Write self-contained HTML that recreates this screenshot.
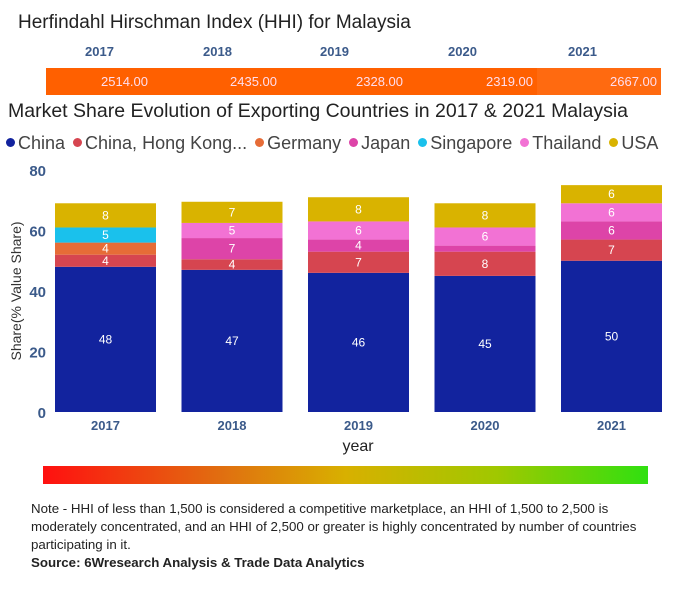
<!DOCTYPE html>
<html><head><meta charset="utf-8"><style>
body{margin:0;width:699px;height:600px;background:#fff;font-family:"Liberation Sans",sans-serif;position:relative;overflow:hidden}
.a{position:absolute;white-space:nowrap}
</style></head><body>
<div class="a" style="left:18px;top:12px;font-size:19px;color:#222">Herfindahl Hirschman Index (HHI) for Malaysia</div>
<div id="hhi"></div>
<div class="a" style="left:8px;top:100px;font-size:19.5px;color:#222">Market Share Evolution of Exporting Countries in 2017 &amp; 2021 Malaysia</div>
<div id="legend" class="a" style="left:6px;top:133px;font-size:18px;color:#444"></div>
<svg id="chart" width="699" height="460" style="position:absolute;left:0;top:0"></svg>
<div class="a" style="left:43px;top:466px;width:605px;height:18px;background:linear-gradient(90deg,#ff1010,#e07010 30%,#d8b000 50%,#a0c800 75%,#30e010)"></div>
<div class="a" style="left:31px;top:500px;font-size:13.3px;line-height:18px;color:#222">Note - HHI of less than 1,500 is considered a competitive marketplace, an HHI of 1,500 to 2,500 is<br>moderately concentrated, and an HHI of 2,500 or greater is highly concentrated by number of countries<br>participating in it.<br><b>Source: 6Wresearch Analysis &amp; Trade Data Analytics</b></div>
<script>
const years=["2017","2018","2019","2020","2021"];
const hhi=[2514.00,2435.00,2328.00,2319.00,2667.00];
const series=["China","China, Hong Kong...","Germany","Japan","Singapore","Thailand","USA"];
const colors=["#12239e","#d64550","#e66c37","#dd44a8","#1ac1ec","#f272d4","#d9b300"];
const china=[48,47,46,45,50];
const hongkong=[4,3.5,7,8,7];
const germany=[4,0,0,0,0];
const japan=[0,7,4,2,6];
const singapore=[5,0,0,0,0];
const thailand=[0,5,6,6,6];
const usa=[8,7,8,8,6];
const yTicks=[0,20,40,60,80];
const vals=[china,hongkong,germany,japan,singapore,thailand,usa];
const NS="http://www.w3.org/2000/svg";
const svg=document.getElementById('chart');
const x0=55,step=126.5,bw=101;
const y=v=>412-v*3.025;
const xb=i=>x0+i*step;
function t(x,yy,s,o){const e=document.createElementNS(NS,'text');e.setAttribute('x',x);e.setAttribute('y',yy);e.textContent=s;for(const k in o)e.setAttribute(k,o[k]);svg.appendChild(e);return e;}
const hh=document.getElementById('hhi');
years.forEach((yr,i)=>{
 const l=document.createElement('div');l.className='a';
 
 
 l.style.cssText=`left:${[85,203,320,448,568][i]}px;top:44px;font-size:13px;font-weight:bold;color:#3b5a8a`;
 l.textContent=yr;document.body.appendChild(l);
 const c=document.createElement('div');c.className='a';
 
 
 const xs=[46,152,281,407,537,661];
 c.style.cssText=`left:${xs[i]}px;top:68px;width:${xs[i+1]-xs[i]}px;height:27px;background:${i==4?'#ff6a10':'#ff6000'};color:#fde;font-size:13px;text-align:right;line-height:27px;box-sizing:border-box;padding-right:4px`;
 c.textContent=hhi[i].toFixed(2);document.body.appendChild(c);
});
const lg=document.getElementById('legend');
series.forEach((s,i)=>{const sp=document.createElement('span');
 
 
 sp.style.marginRight='8px';
 sp.innerHTML=`<span style="display:inline-block;width:9px;height:9px;border-radius:50%;background:${colors[i]};margin-right:3px;vertical-align:2px"></span>${s}`;lg.appendChild(sp);});
yTicks.forEach(v=>{const e=t(46,y(v)+6,v,{'text-anchor':'end','font-size':15,'font-weight':'bold',fill:'#3b5a8a'});
 
 });
const yt=t(0,0,'Share(% Value Share)',{'font-size':14,fill:'#333',transform:'translate(21,291) rotate(-90)','text-anchor':'middle'});


const xt=t(358,451,'year',{'font-size':16,fill:'#222','text-anchor':'middle'});


years.forEach((yr,i)=>{
 let acc=0;
 vals.forEach((arr,s)=>{const v=arr[i];if(!v)return;
  const r=document.createElementNS(NS,'rect');
  r.setAttribute('x',xb(i));r.setAttribute('y',y(acc+v));r.setAttribute('width',bw);r.setAttribute('height',v*3.025);r.setAttribute('fill',colors[s]);
  
  
  svg.appendChild(r);
  if(v>=3){const lb=t(xb(i)+bw/2,y(acc+v/2)+4,Math.round(v),{'text-anchor':'middle','font-size':12,fill:'#fff'});
   
   }
  acc+=v;});
 const e=t(xb(i)+bw/2,430,yr,{'text-anchor':'middle','font-size':13,'font-weight':'bold',fill:'#3b5a8a'});
 
 
});
</script>
</body></html>
